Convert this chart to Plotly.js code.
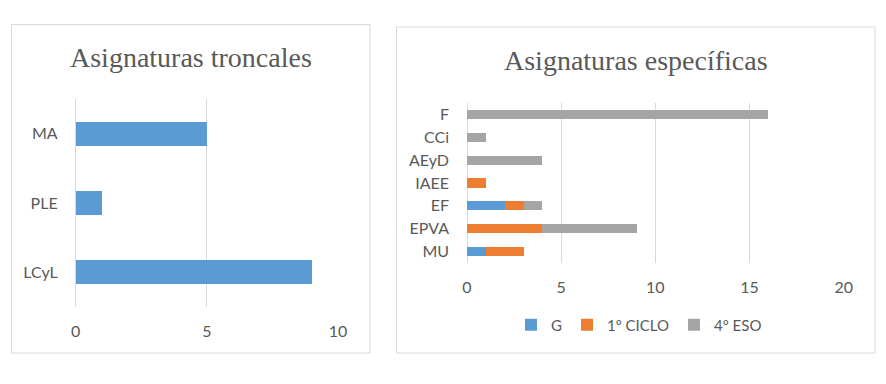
<!DOCTYPE html>
<html><head><meta charset="utf-8">
<script src="https://cdn.plot.ly/plotly-3.0.1.min.js"></script>
<style>html,body{margin:0;padding:0;background:#fff}#c{width:886px;height:384px}</style>
</head><body><div id="c"></div>
<script>
const troncalCats = ['LCyL', 'PLE', 'MA'];
const troncalVals = [9, 1, 5];

const especCats = ['MU', 'EPVA', 'EF', 'IAEE', 'AEyD', 'CCi', 'F'];
const serieG = [1, 0, 2, 0, 0, 0, 0];
const serieCiclo = [2, 4, 1, 1, 0, 0, 0];
const serieESO = [0, 5, 1, 0, 4, 1, 16];
const seriesNames = ['G', '1º CICLO', '4º ESO'];
const colors = ['#5B9BD5', '#ED7D31', '#A5A5A5'];

const W = 886, H = 384;
const px = v => v / W, py = v => 1 - v / H;
const tickFont = {family: 'Lato, "Open Sans", sans-serif', size: 16, color: '#595959'};
const legendFont = {family: 'Lato, "Open Sans", sans-serif', size: 15, color: '#595959'};
const titleFont = {family: '"Liberation Serif", "DejaVu Serif", serif', size: 28, color: '#595959'};

const traces = [
  {type: 'bar', orientation: 'h', y: troncalCats, x: troncalVals, xaxis: 'x', yaxis: 'y',
   marker: {color: colors[0]}, width: 0.35, showlegend: false},
  {type: 'bar', orientation: 'h', y: especCats, x: serieG, name: seriesNames[0], xaxis: 'x2', yaxis: 'y2',
   marker: {color: colors[0]}, width: 0.4},
  {type: 'bar', orientation: 'h', y: especCats, x: serieCiclo, name: seriesNames[1], xaxis: 'x2', yaxis: 'y2',
   marker: {color: colors[1]}, width: 0.4},
  {type: 'bar', orientation: 'h', y: especCats, x: serieESO, name: seriesNames[2], xaxis: 'x2', yaxis: 'y2',
   marker: {color: colors[2]}, width: 0.4}
];

const gridCol = '#D9D9D9';
const layout = {
  width: W, height: H, margin: {l: 0, r: 0, t: 0, b: 0},
  paper_bgcolor: '#fff', plot_bgcolor: '#fff',
  barmode: 'stack', showlegend: true,
  font: tickFont,
  xaxis: {domain: [px(75.7), px(338)], range: [0, 10], dtick: 5, showgrid: true, gridcolor: gridCol,
          zeroline: true, zerolinecolor: gridCol, showline: false, ticks: '', tickfont: tickFont,
          ticklabelstandoff: 13, anchor: 'y'},
  yaxis: {domain: [py(307), py(99)], type: 'category', showgrid: false, zeroline: false, ticks: '',
          tickfont: tickFont, ticklabelstandoff: 17, anchor: 'x', range: [-0.5, 2.5]},
  xaxis2: {domain: [px(467), px(843.7)], range: [0, 20], dtick: 5, showgrid: true, gridcolor: gridCol,
          zeroline: true, zerolinecolor: gridCol, showline: false, ticks: '', tickfont: tickFont,
          ticklabelstandoff: 13, anchor: 'y2'},
  yaxis2: {domain: [py(263), py(103)], type: 'category', showgrid: false, zeroline: false, ticks: '',
          tickfont: tickFont, ticklabelstandoff: 17, anchor: 'x2', range: [-0.5, 6.5]},
  legend: {orientation: 'h', x: px(639), xanchor: 'center', y: py(325), yanchor: 'middle',
           font: legendFont, traceorder: 'normal', itemwidth: 30},
  shapes: [
    {type: 'rect', xref: 'paper', yref: 'paper', x0: px(11.5), x1: px(370), y0: py(353), y1: py(24.5),
     line: {color: gridCol, width: 1}},
    {type: 'rect', xref: 'paper', yref: 'paper', x0: px(396.5), x1: px(875), y0: py(353), y1: py(27),
     line: {color: gridCol, width: 1}}
  ],
  annotations: [
    {text: 'Asignaturas troncales', xref: 'paper', yref: 'paper', x: px(190.5), y: py(58),
     xanchor: 'center', yanchor: 'middle', showarrow: false, font: titleFont},
    {text: 'Asignaturas específicas', xref: 'paper', yref: 'paper', x: px(636), y: py(61),
     xanchor: 'center', yanchor: 'middle', showarrow: false, font: titleFont}
  ]
};

Plotly.newPlot('c', traces, layout, {displayModeBar: false, staticPlot: true});
</script></body></html>
